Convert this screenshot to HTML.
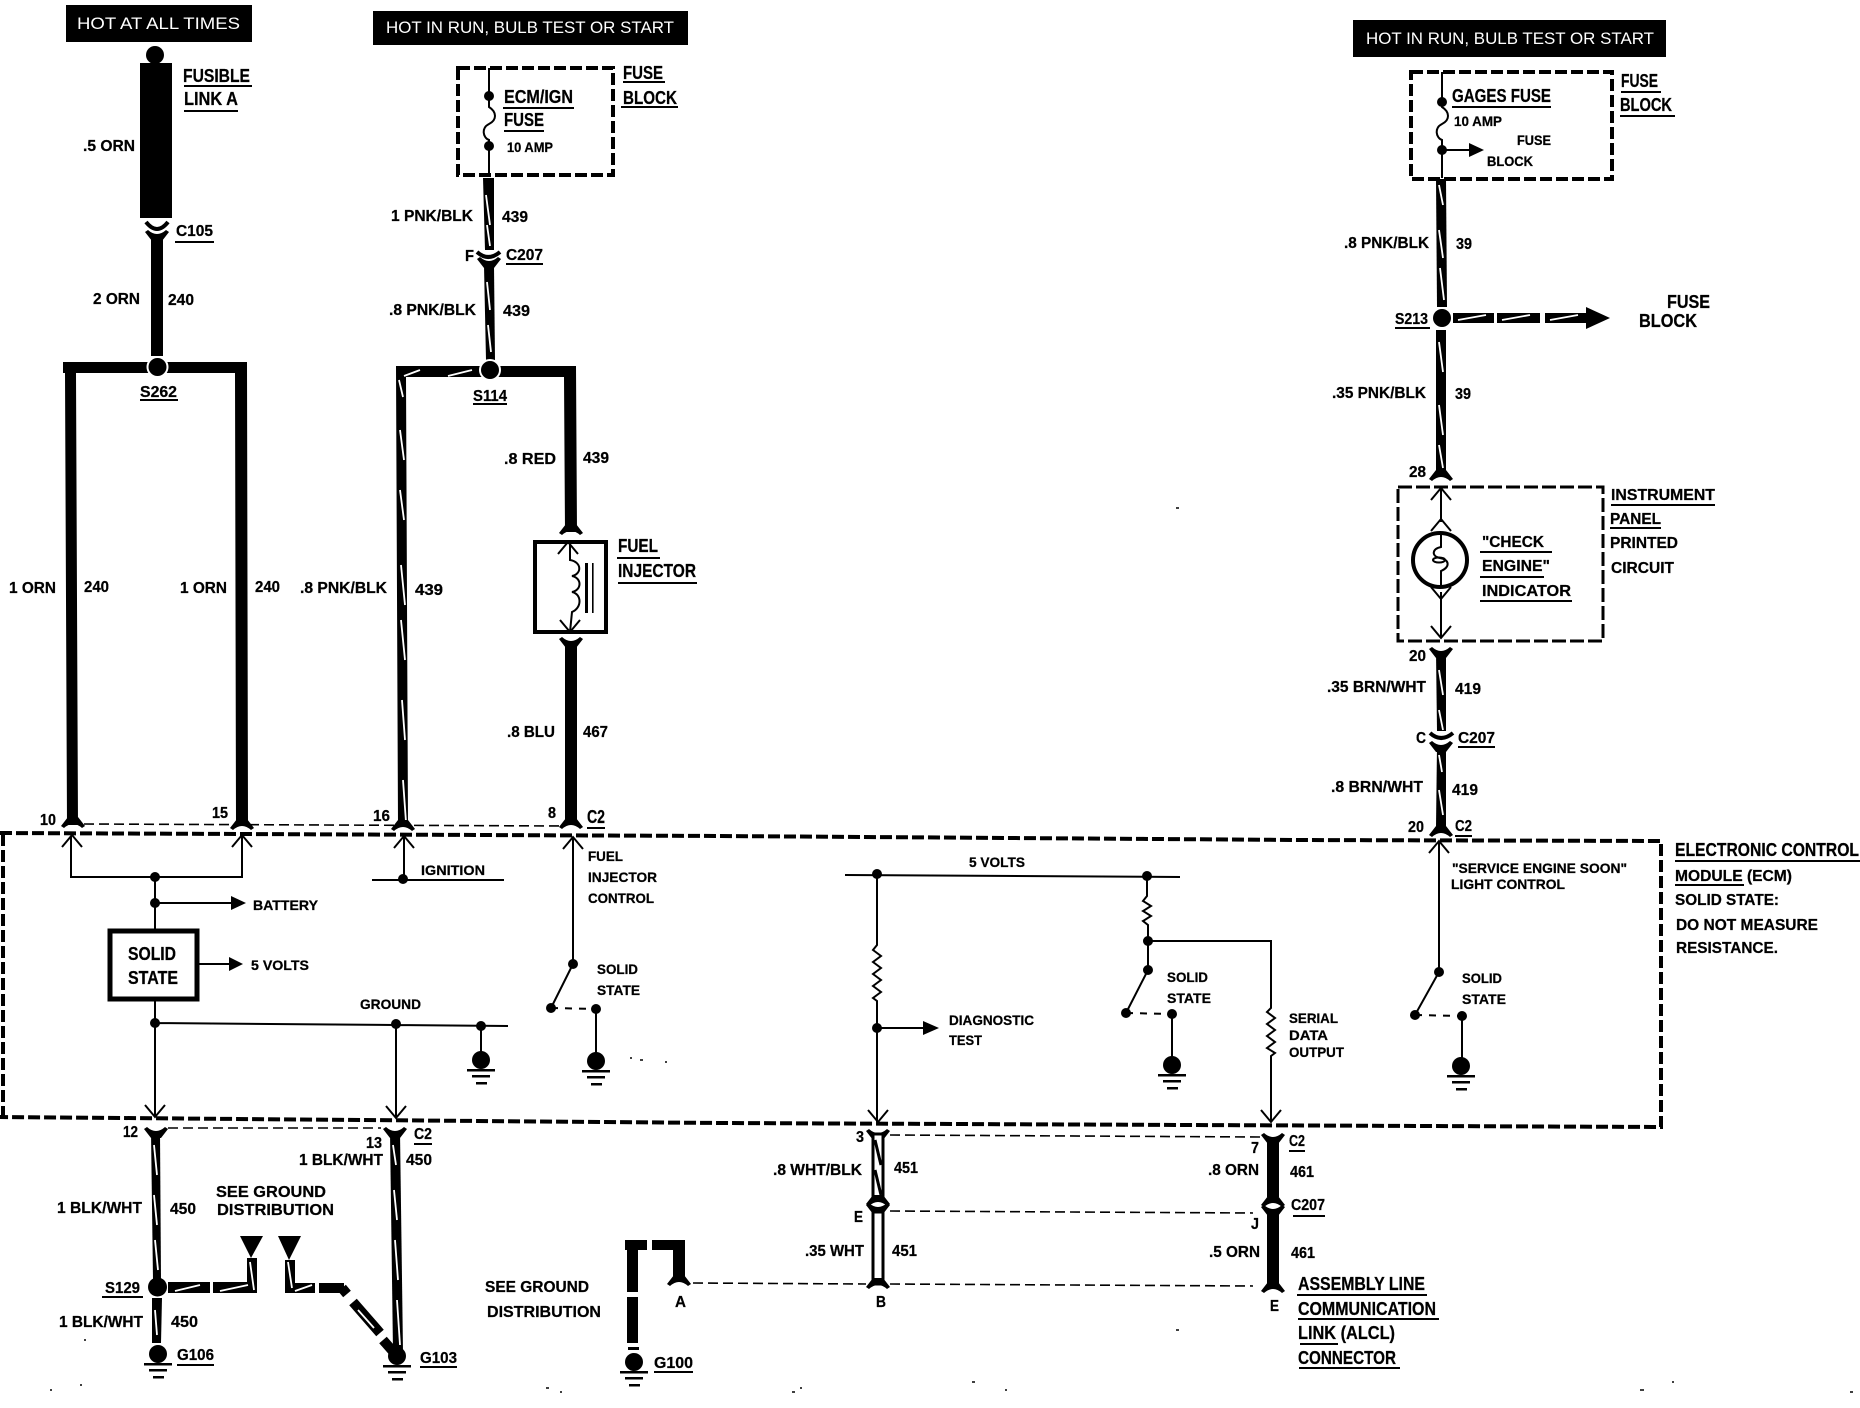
<!DOCTYPE html>
<html><head><meta charset="utf-8"><title>ECM wiring diagram</title>
<style>
html,body{margin:0;padding:0;background:#fff}
svg{display:block}
text{font-family:"Liberation Sans",sans-serif;font-weight:bold;fill:#000;stroke:#000;stroke-width:.25;font-size:16px}
.s{font-size:14px}
.m{font-size:18px}
.w{fill:#fff;stroke:none;font-weight:normal;font-size:17px}
.t{stroke:#000;fill:none;stroke-width:2}
.u{stroke:#000;fill:none;stroke-width:2}
.d{stroke:#000;fill:none;stroke-width:4;stroke-dasharray:12 4}
.h{stroke:#000;fill:none;stroke-width:1.6;stroke-dasharray:10 5}
.x{stroke:#fff;fill:none;stroke-width:1.8}
</style></head><body>
<svg width="1860" height="1408" viewBox="0 0 1860 1408" xmlns="http://www.w3.org/2000/svg">
<defs>
<path id="fd" d="M-12 1L-5 -8L5 -8L12 1L9 3Q0 -5 -9 3Z"/>
<path id="fu" d="M-12 -1L-5 8L5 8L12 -1L9 -3Q0 5 -9 -3Z"/>
<path id="au" class="t" d="M-10 12L0 0L10 12"/>
<path id="ad" class="t" d="M-10 -12L0 0L10 -12"/>
<g id="gnd"><ellipse cx="0" cy="8" rx="9" ry="9"/><rect x="-14" y="17" width="28" height="2.5"/><rect x="-9" y="23" width="18" height="2.5"/><rect x="-5" y="30" width="11" height="2.5"/></g>
</defs>

<!-- headers -->
<rect x="66" y="5" width="186" height="37"/>
<text class="w" x="77" y="29" textLength="163" lengthAdjust="spacingAndGlyphs">HOT AT ALL TIMES</text>
<rect x="373" y="11" width="315" height="34"/>
<text class="w" x="386" y="33" textLength="288" lengthAdjust="spacingAndGlyphs">HOT IN RUN, BULB TEST OR START</text>
<rect x="1353" y="20" width="313" height="37"/>
<text class="w" x="1366" y="44" textLength="288" lengthAdjust="spacingAndGlyphs">HOT IN RUN, BULB TEST OR START</text>

<!-- column 1 -->
<circle cx="155" cy="55" r="9"/>
<rect x="140" y="63" width="32" height="155"/>
<path d="M146 222Q157 236 168 222" stroke="#000" stroke-width="4" fill="none"/>
<use href="#fu" x="157" y="233"/>
<rect x="151" y="238" width="12" height="118"/>
<polygon points="63,362 247,362 248,825 236,825 235,373 76,373 78,825 67,825 65,373 63,373"/>
<circle cx="157.5" cy="367" r="10" stroke="#fff" stroke-width="2"/>
<use href="#fd" x="73" y="825"/><use href="#fd" x="242" y="827"/>

<!-- column 2 -->
<rect x="458" y="68" width="155" height="107" class="d"/>
<path class="t" d="M489 68V107C497 112 497 120 489 124C481 128 483 138 489 140V176"/>
<circle cx="489" cy="96" r="5"/><circle cx="489" cy="146" r="5"/>
<polygon points="483,178 494,178 494,250 485,250"/>
<path d="M477 252Q488 262 500 252" stroke="#000" stroke-width="4" fill="none"/>
<use href="#fu" x="489" y="260"/>
<polygon points="484,266 494,266 495,360 486,360"/>
<path class="x" d="M486 195L490 225M487 225L490 246M487 282L490 310M488 325L491 352"/>
<polygon points="396,366 576,366 577,532 565,532 564,377 406,377 408,825 398,825"/>
<circle cx="490" cy="370" r="10" stroke="#fff" stroke-width="2"/>
<path class="x" d="M404 376L420 370M448 376L472 370M399 380L403 397M400 430L404 460M400 490L404 520M401 565L405 605M401 620L405 660M402 700L405 740M403 780L406 822"/>
<use href="#fd" x="571" y="532"/><use href="#fd" x="403" y="828"/>
<rect x="535" y="542" width="71" height="90" fill="none" stroke="#000" stroke-width="4"/>
<path class="t" d="M570 542V560C582 562 582 574 572 576C582 578 582 590 572 592C582 594 582 608 572 612L570 632"/>
<use href="#au" x="568" y="542"/><use href="#ad" x="570" y="632"/>
<rect x="585" y="563" width="3" height="50"/><rect x="592" y="563" width="1.6" height="50"/>
<use href="#fu" x="571" y="640"/>
<rect x="565" y="645" width="12" height="177"/>
<use href="#fd" x="571" y="826"/>
<path class="h" d="M84 824L562 826"/>

<!-- column 3 -->
<rect x="1411" y="72" width="201" height="107" class="d"/>
<path class="t" d="M1442 72V107C1450 112 1450 120 1442 124C1434 128 1436 138 1442 140V178"/>
<circle cx="1442" cy="102" r="5"/><circle cx="1442" cy="150" r="5"/>
<path class="t" d="M1442 150H1470"/><polygon points="1469,143 1484,150 1469,157"/>
<polygon points="1436,179 1446,179 1447,307 1437,307"/>
<path class="x" d="M1439 185L1443 205M1439 230L1443 258M1440 268L1444 300"/>
<circle cx="1442" cy="318" r="9"/>
<rect x="1453" y="313" width="41" height="10"/><rect x="1497" y="313" width="43" height="10"/><rect x="1545" y="313" width="42" height="10"/>
<polygon points="1586,307 1610,318 1586,329"/>
<path class="x" d="M1458 320L1486 315M1502 320L1530 315M1550 320L1578 315"/>
<polygon points="1436,330 1446,330 1446,470 1436,470"/>
<path class="x" d="M1439 342L1443 372M1439 405L1443 435M1439 445L1443 468"/>
<use href="#fd" x="1441" y="478"/>
<rect x="1398" y="487" width="205" height="154" fill="none" stroke="#000" stroke-width="3" stroke-dasharray="14 4"/>
<path class="t" d="M1441 489V522"/><use href="#au" x="1441" y="488"/><use href="#au" x="1441" y="519"/>
<circle cx="1440" cy="560" r="27" fill="#fff" stroke="#000" stroke-width="4"/>
<path class="t" d="M1441 534V547C1432 549 1431 556 1440 558C1450 560 1450 567 1441 571V588"/>
<ellipse cx="1439" cy="560" rx="6" ry="2.5" fill="none" stroke="#000" stroke-width="2"/>
<path class="t" d="M1441 592V638"/><use href="#ad" x="1441" y="599"/><use href="#ad" x="1441" y="638"/>
<use href="#fu" x="1441" y="650"/>
<polygon points="1436,652 1446,652 1446,731 1437,731"/>
<path class="x" d="M1439 670L1443 695M1439 710L1443 730"/>
<path d="M1430 733Q1441 743 1453 733" stroke="#000" stroke-width="4" fill="none"/>
<use href="#fu" x="1441" y="744"/>
<polygon points="1437,746 1446,746 1446,827 1436,827"/>
<path class="x" d="M1439 755L1442 772M1439 790L1443 815"/>
<use href="#fd" x="1441" y="834"/>

<!-- ECM dashed box -->
<path class="d" d="M0 833L720 836L1300 840L1661 841V1127L720 1123L0 1117"/>
<path class="d" d="M3 834V1117"/>

<!-- ECM left internals -->
<path class="t" d="M71 836V877H242V836M155 877V930"/>
<use href="#au" x="72" y="835"/><use href="#au" x="242" y="835"/>
<circle cx="155" cy="877" r="5"/><circle cx="155" cy="903" r="5"/>
<path class="t" d="M155 903H232"/><polygon points="231,896 246,903 231,910"/>
<rect x="110" y="931" width="87" height="68" fill="none" stroke="#000" stroke-width="5"/>
<path class="t" d="M198 964H230"/><polygon points="229,957 243,964 229,971"/>
<path class="t" d="M155 1000V1117M155 1023L508 1026M396 1024V1117M481 1026V1052"/>
<use href="#ad" x="155" y="1117"/><use href="#ad" x="396" y="1118"/>
<circle cx="155" cy="1023" r="5"/><circle cx="396" cy="1024" r="5"/><circle cx="481" cy="1026" r="5"/>
<use href="#gnd" x="481" y="1052"/>
<path class="t" d="M404 836V880M372 880H504"/><use href="#au" x="404" y="836"/><circle cx="403" cy="879" r="5"/>
<path class="t" d="M573 837V964L551 1008"/><use href="#au" x="573" y="837"/>
<circle cx="573" cy="964" r="5"/><circle cx="551" cy="1008" r="5"/><circle cx="596" cy="1009" r="5"/>
<path class="t" stroke-dasharray="7 7" d="M551 1008L596 1009"/>
<path class="t" d="M596 1009V1053"/><use href="#gnd" x="596" y="1053"/>

<!-- ECM centre -->
<path class="t" d="M845 875L1180 877"/>
<path class="t" d="M877 875V945L873 950L881 956L873 962L881 968L873 974L881 980L873 986L881 992L873 998L877 1001V1122"/>
<circle cx="877" cy="874" r="5"/><circle cx="1147" cy="876" r="5"/><circle cx="877" cy="1028" r="5"/>
<path class="t" d="M877 1028H924"/><polygon points="923,1021 939,1028 923,1035"/>
<use href="#ad" x="878" y="1122"/>
<path class="t" d="M1147 876V896L1143 901L1151 906L1143 911L1151 916L1143 921L1148 925V970L1126 1013"/>
<circle cx="1148" cy="941" r="5"/><circle cx="1148" cy="970" r="5"/><circle cx="1126" cy="1013" r="5"/><circle cx="1172" cy="1014" r="5"/>
<path class="t" d="M1148 941H1271V1008L1267 1012L1275 1018L1267 1024L1275 1030L1267 1036L1275 1042L1267 1048L1275 1053L1271 1056V1122"/>
<use href="#ad" x="1271" y="1122"/>
<path class="t" stroke-dasharray="7 7" d="M1126 1013L1172 1014"/>
<path class="t" d="M1172 1014V1057"/><use href="#gnd" x="1172" y="1057"/>
<!-- ECM right -->
<path class="t" d="M1439 842V972L1415 1015"/><use href="#au" x="1439" y="841"/>
<circle cx="1439" cy="972" r="5"/><circle cx="1415" cy="1015" r="5"/><circle cx="1462" cy="1016" r="5"/>
<path class="t" stroke-dasharray="7 7" d="M1415 1015L1462 1016"/>
<path class="t" d="M1462 1016V1058"/><use href="#gnd" x="1461" y="1058"/>

<!-- bottom left -->
<use href="#fu" x="156" y="1130"/>
<polygon points="151,1132 160,1132 161,1280 153,1280"/>
<path class="x" d="M154 1145L157 1175M154 1195L157 1225M155 1240L158 1270"/>
<circle cx="157.5" cy="1287" r="9.5"/>
<polygon points="152,1298 162,1298 161,1343 152,1343"/>
<path class="x" d="M155 1310L157 1335"/>
<use href="#gnd" x="158" y="1346"/>
<path class="h" d="M168 1128H381"/>
<use href="#fu" x="395" y="1130"/>
<polygon points="390,1132 400,1132 403,1352 393,1352"/>
<path class="x" d="M393 1145L396 1165M394 1190L397 1220M395 1240L398 1280M397 1300L400 1345"/>
<use href="#gnd" x="397" y="1348"/>
<rect x="168" y="1282" width="42" height="11"/><rect x="213" y="1282" width="44" height="11"/><rect x="247" y="1258" width="10" height="35"/>
<polygon points="240,1236 263,1236 251,1258"/>
<polygon points="278,1236 301,1236 289,1260"/>
<rect x="285" y="1260" width="10" height="33"/><rect x="285" y="1283" width="30" height="10"/><rect x="319" y="1283" width="25" height="10"/>
<path class="x" d="M175 1291L200 1285M220 1291L248 1285M250 1262L254 1290M288 1262L292 1288M295 1291L312 1285"/>
<path stroke="#000" stroke-width="10" fill="none" d="M342 1288L347 1294M353 1302L380 1333M383 1340L397 1356"/>
<path class="x" d="M358 1310L374 1328"/>
<!-- G100 -->
<rect x="625" y="1240" width="22" height="10"/><rect x="627" y="1240" width="11" height="52"/><rect x="627" y="1297" width="11" height="46"/><rect x="628" y="1347" width="11" height="3"/>
<use href="#gnd" x="634" y="1354"/>
<rect x="652" y="1240" width="33" height="10"/><rect x="673" y="1240" width="12" height="42"/>
<use href="#fd" x="679" y="1283"/>
<path class="h" d="M693 1283L866 1284"/>

<!-- bottom centre -->
<use href="#fu" x="878" y="1132"/>
<rect x="873" y="1134" width="10" height="63" fill="#fff" stroke="#000" stroke-width="3"/>
<path d="M875 1140L881 1165M875 1170L881 1195" stroke="#000" stroke-width="3"/>
<use href="#fd" x="878" y="1203"/>
<use href="#fu" x="878" y="1206"/>
<rect x="873" y="1212" width="10" height="72" fill="#fff" stroke="#000" stroke-width="3"/>
<use href="#fd" x="878" y="1286"/>
<path class="h" d="M890 1135L1260 1137M890 1211L1253 1213M890 1284L1253 1286"/>
<use href="#fu" x="1273" y="1136"/>
<rect x="1267" y="1137" width="12" height="60"/>
<use href="#fd" x="1273" y="1204"/>
<use href="#fu" x="1273" y="1208"/>
<rect x="1267" y="1213" width="12" height="71"/>
<use href="#fd" x="1273" y="1290"/>

<!-- underlines -->
<path class="u" d="M184 86H252M184 111H238M175 242H214M140 400H178M623 82H665M621 107H678M503 108H574M504 131H544M506 264H543M473 404H507M617 558H660M618 583H697M587 828H605M1452 107H1551M1621 92H1661M1620 116H1675M1395 328H1430M1611 505H1715M1610 528H1661M1480 552H1552M1480 577H1544M1480 601H1572M1458 747H1495M1455 836H1472M1675 861H1860M1675 885H1744M102 1297H143M177 1365H214M420 1367H457M414 1144H432M654 1372H693M1289 1151H1305M1293 1216H1325M1297 1295H1427M1298 1319H1439M1300 1344H1338M1299 1368H1400"/>

<!-- print specks -->
<path stroke="#000" stroke-width="1.6" d="M546 1388h3M560 1392h2M792 1392h3M800 1388h2M972 1382h3M1005 1390h2M1640 1390h4M1672 1382h2M1850 1392h3M1176 508h3M1176 1330h3M640 1060h3M630 1058h2M665 1062h2M84 1340h2M50 1390h2M80 1385h2"/>

<!-- labels -->
<g>
<text class="m" x="183" y="82" textLength="67" lengthAdjust="spacingAndGlyphs">FUSIBLE</text>
<text class="m" x="184" y="105" textLength="54" lengthAdjust="spacingAndGlyphs">LINK A</text>
<text x="83" y="151" textLength="52" lengthAdjust="spacingAndGlyphs">.5 ORN</text>
<text x="176" y="236" textLength="37" lengthAdjust="spacingAndGlyphs">C105</text>
<text x="93" y="304" textLength="47" lengthAdjust="spacingAndGlyphs">2 ORN</text>
<text x="168" y="305" textLength="26" lengthAdjust="spacingAndGlyphs">240</text>
<text x="140" y="397" textLength="37" lengthAdjust="spacingAndGlyphs">S262</text>
<text class="m" x="623" y="79" textLength="40" lengthAdjust="spacingAndGlyphs">FUSE</text>
<text class="m" x="623" y="104" textLength="54" lengthAdjust="spacingAndGlyphs">BLOCK</text>
<text class="m" x="504" y="103" textLength="69" lengthAdjust="spacingAndGlyphs">ECM/IGN</text>
<text class="m" x="504" y="126" textLength="40" lengthAdjust="spacingAndGlyphs">FUSE</text>
<text class="s" x="507" y="152" textLength="46" lengthAdjust="spacingAndGlyphs">10 AMP</text>
<text x="391" y="221" textLength="82" lengthAdjust="spacingAndGlyphs">1 PNK/BLK</text>
<text x="502" y="222" textLength="26" lengthAdjust="spacingAndGlyphs">439</text>
<text x="465" y="261" textLength="9" lengthAdjust="spacingAndGlyphs">F</text>
<text x="506" y="260" textLength="37" lengthAdjust="spacingAndGlyphs">C207</text>
<text x="389" y="315" textLength="87" lengthAdjust="spacingAndGlyphs">.8 PNK/BLK</text>
<text x="503" y="316" textLength="27" lengthAdjust="spacingAndGlyphs">439</text>
<text x="473" y="401" textLength="34" lengthAdjust="spacingAndGlyphs">S114</text>
<text x="504" y="464" textLength="52" lengthAdjust="spacingAndGlyphs">.8 RED</text>
<text x="583" y="463" textLength="26" lengthAdjust="spacingAndGlyphs">439</text>
<text x="9" y="593" textLength="47" lengthAdjust="spacingAndGlyphs">1 ORN</text>
<text x="84" y="592" textLength="25" lengthAdjust="spacingAndGlyphs">240</text>
<text x="180" y="593" textLength="47" lengthAdjust="spacingAndGlyphs">1 ORN</text>
<text x="255" y="592" textLength="25" lengthAdjust="spacingAndGlyphs">240</text>
<text x="300" y="593" textLength="87" lengthAdjust="spacingAndGlyphs">.8 PNK/BLK</text>
<text x="415" y="595" textLength="28" lengthAdjust="spacingAndGlyphs">439</text>
<text class="m" x="618" y="552" textLength="40" lengthAdjust="spacingAndGlyphs">FUEL</text>
<text class="m" x="618" y="577" textLength="78" lengthAdjust="spacingAndGlyphs">INJECTOR</text>
<text x="507" y="737" textLength="48" lengthAdjust="spacingAndGlyphs">.8 BLU</text>
<text x="583" y="737" textLength="25" lengthAdjust="spacingAndGlyphs">467</text>
<text x="40" y="825" textLength="16" lengthAdjust="spacingAndGlyphs">10</text>
<text x="212" y="818" textLength="16" lengthAdjust="spacingAndGlyphs">15</text>
<text x="373" y="821" textLength="17" lengthAdjust="spacingAndGlyphs">16</text>
<text x="548" y="818" textLength="8" lengthAdjust="spacingAndGlyphs">8</text>
<text class="m" x="587" y="823" textLength="18" lengthAdjust="spacingAndGlyphs">C2</text>
<text class="s" x="253" y="910" textLength="65" lengthAdjust="spacingAndGlyphs">BATTERY</text>
<text class="m" x="128" y="960" textLength="48" lengthAdjust="spacingAndGlyphs">SOLID</text>
<text class="m" x="128" y="984" textLength="50" lengthAdjust="spacingAndGlyphs">STATE</text>
<text class="s" x="251" y="970" textLength="58" lengthAdjust="spacingAndGlyphs">5 VOLTS</text>
<text class="s" x="360" y="1009" textLength="61" lengthAdjust="spacingAndGlyphs">GROUND</text>
<text class="s" x="421" y="875" textLength="64" lengthAdjust="spacingAndGlyphs">IGNITION</text>
<text class="s" x="588" y="861" textLength="35" lengthAdjust="spacingAndGlyphs">FUEL</text>
<text class="s" x="588" y="882" textLength="69" lengthAdjust="spacingAndGlyphs">INJECTOR</text>
<text class="s" x="588" y="903" textLength="66" lengthAdjust="spacingAndGlyphs">CONTROL</text>
<text class="s" x="597" y="974" textLength="41" lengthAdjust="spacingAndGlyphs">SOLID</text>
<text class="s" x="597" y="995" textLength="43" lengthAdjust="spacingAndGlyphs">STATE</text>
<text class="s" x="969" y="867" textLength="56" lengthAdjust="spacingAndGlyphs">5 VOLTS</text>
<text class="s" x="949" y="1025" textLength="85" lengthAdjust="spacingAndGlyphs">DIAGNOSTIC</text>
<text class="s" x="949" y="1045" textLength="33" lengthAdjust="spacingAndGlyphs">TEST</text>
<text class="s" x="1167" y="982" textLength="41" lengthAdjust="spacingAndGlyphs">SOLID</text>
<text class="s" x="1167" y="1003" textLength="44" lengthAdjust="spacingAndGlyphs">STATE</text>
<text class="s" x="1289" y="1023" textLength="49" lengthAdjust="spacingAndGlyphs">SERIAL</text>
<text class="s" x="1289" y="1040" textLength="39" lengthAdjust="spacingAndGlyphs">DATA</text>
<text class="s" x="1289" y="1057" textLength="55" lengthAdjust="spacingAndGlyphs">OUTPUT</text>
<text x="123" y="1137" textLength="15" lengthAdjust="spacingAndGlyphs">12</text>
<text x="366" y="1148" textLength="16" lengthAdjust="spacingAndGlyphs">13</text>
<text x="414" y="1139" textLength="18" lengthAdjust="spacingAndGlyphs">C2</text>
<text x="299" y="1165" textLength="84" lengthAdjust="spacingAndGlyphs">1 BLK/WHT</text>
<text x="406" y="1165" textLength="26" lengthAdjust="spacingAndGlyphs">450</text>
<text x="216" y="1197" textLength="110" lengthAdjust="spacingAndGlyphs">SEE GROUND</text>
<text x="217" y="1215" textLength="117" lengthAdjust="spacingAndGlyphs">DISTRIBUTION</text>
<text x="57" y="1213" textLength="85" lengthAdjust="spacingAndGlyphs">1 BLK/WHT</text>
<text x="170" y="1214" textLength="26" lengthAdjust="spacingAndGlyphs">450</text>
<text x="105" y="1293" textLength="35" lengthAdjust="spacingAndGlyphs">S129</text>
<text x="59" y="1327" textLength="84" lengthAdjust="spacingAndGlyphs">1 BLK/WHT</text>
<text x="171" y="1327" textLength="27" lengthAdjust="spacingAndGlyphs">450</text>
<text x="177" y="1360" textLength="37" lengthAdjust="spacingAndGlyphs">G106</text>
<text x="420" y="1363" textLength="37" lengthAdjust="spacingAndGlyphs">G103</text>
<text x="485" y="1292" textLength="104" lengthAdjust="spacingAndGlyphs">SEE GROUND</text>
<text x="487" y="1317" textLength="114" lengthAdjust="spacingAndGlyphs">DISTRIBUTION</text>
<text x="654" y="1368" textLength="39" lengthAdjust="spacingAndGlyphs">G100</text>
<text x="675" y="1307" textLength="11" lengthAdjust="spacingAndGlyphs">A</text>
<text x="856" y="1142" textLength="8" lengthAdjust="spacingAndGlyphs">3</text>
<text x="773" y="1175" textLength="89" lengthAdjust="spacingAndGlyphs">.8 WHT/BLK</text>
<text x="894" y="1173" textLength="24" lengthAdjust="spacingAndGlyphs">451</text>
<text x="854" y="1222" textLength="9" lengthAdjust="spacingAndGlyphs">E</text>
<text x="805" y="1256" textLength="59" lengthAdjust="spacingAndGlyphs">.35 WHT</text>
<text x="892" y="1256" textLength="25" lengthAdjust="spacingAndGlyphs">451</text>
<text x="876" y="1307" textLength="10" lengthAdjust="spacingAndGlyphs">B</text>
<text x="1251" y="1153" textLength="8" lengthAdjust="spacingAndGlyphs">7</text>
<text x="1289" y="1146" textLength="16" lengthAdjust="spacingAndGlyphs">C2</text>
<text x="1208" y="1175" textLength="51" lengthAdjust="spacingAndGlyphs">.8 ORN</text>
<text x="1290" y="1177" textLength="24" lengthAdjust="spacingAndGlyphs">461</text>
<text x="1291" y="1210" textLength="34" lengthAdjust="spacingAndGlyphs">C207</text>
<text x="1251" y="1229" textLength="8" lengthAdjust="spacingAndGlyphs">J</text>
<text x="1209" y="1257" textLength="51" lengthAdjust="spacingAndGlyphs">.5 ORN</text>
<text x="1291" y="1258" textLength="24" lengthAdjust="spacingAndGlyphs">461</text>
<text x="1270" y="1311" textLength="9" lengthAdjust="spacingAndGlyphs">E</text>
<text class="m" x="1298" y="1290" textLength="127" lengthAdjust="spacingAndGlyphs">ASSEMBLY LINE</text>
<text class="m" x="1298" y="1315" textLength="138" lengthAdjust="spacingAndGlyphs">COMMUNICATION</text>
<text class="m" x="1298" y="1339" textLength="97" lengthAdjust="spacingAndGlyphs">LINK (ALCL)</text>
<text class="m" x="1298" y="1364" textLength="98" lengthAdjust="spacingAndGlyphs">CONNECTOR</text>
<text class="m" x="1452" y="102" textLength="99" lengthAdjust="spacingAndGlyphs">GAGES FUSE</text>
<text class="s" x="1454" y="126" textLength="48" lengthAdjust="spacingAndGlyphs">10 AMP</text>
<text class="s" x="1517" y="145" textLength="34" lengthAdjust="spacingAndGlyphs">FUSE</text>
<text class="s" x="1487" y="166" textLength="46" lengthAdjust="spacingAndGlyphs">BLOCK</text>
<text class="m" x="1621" y="87" textLength="37" lengthAdjust="spacingAndGlyphs">FUSE</text>
<text class="m" x="1620" y="111" textLength="52" lengthAdjust="spacingAndGlyphs">BLOCK</text>
<text x="1344" y="248" textLength="85" lengthAdjust="spacingAndGlyphs">.8 PNK/BLK</text>
<text x="1456" y="249" textLength="16" lengthAdjust="spacingAndGlyphs">39</text>
<text x="1395" y="324" textLength="33" lengthAdjust="spacingAndGlyphs">S213</text>
<text class="m" x="1667" y="308" textLength="43" lengthAdjust="spacingAndGlyphs">FUSE</text>
<text class="m" x="1639" y="327" textLength="58" lengthAdjust="spacingAndGlyphs">BLOCK</text>
<text x="1332" y="398" textLength="94" lengthAdjust="spacingAndGlyphs">.35 PNK/BLK</text>
<text x="1455" y="399" textLength="16" lengthAdjust="spacingAndGlyphs">39</text>
<text x="1409" y="477" textLength="17" lengthAdjust="spacingAndGlyphs">28</text>
<text x="1611" y="500" textLength="104" lengthAdjust="spacingAndGlyphs">INSTRUMENT</text>
<text x="1610" y="524" textLength="51" lengthAdjust="spacingAndGlyphs">PANEL</text>
<text x="1610" y="548" textLength="68" lengthAdjust="spacingAndGlyphs">PRINTED</text>
<text x="1611" y="573" textLength="63" lengthAdjust="spacingAndGlyphs">CIRCUIT</text>
<text x="1482" y="547" textLength="62" lengthAdjust="spacingAndGlyphs">"CHECK</text>
<text x="1482" y="571" textLength="68" lengthAdjust="spacingAndGlyphs">ENGINE"</text>
<text x="1482" y="596" textLength="89" lengthAdjust="spacingAndGlyphs">INDICATOR</text>
<text x="1409" y="661" textLength="17" lengthAdjust="spacingAndGlyphs">20</text>
<text x="1327" y="692" textLength="99" lengthAdjust="spacingAndGlyphs">.35 BRN/WHT</text>
<text x="1455" y="694" textLength="26" lengthAdjust="spacingAndGlyphs">419</text>
<text x="1416" y="743" textLength="10" lengthAdjust="spacingAndGlyphs">C</text>
<text x="1458" y="743" textLength="37" lengthAdjust="spacingAndGlyphs">C207</text>
<text x="1331" y="792" textLength="92" lengthAdjust="spacingAndGlyphs">.8 BRN/WHT</text>
<text x="1452" y="795" textLength="26" lengthAdjust="spacingAndGlyphs">419</text>
<text x="1408" y="832" textLength="16" lengthAdjust="spacingAndGlyphs">20</text>
<text x="1455" y="831" textLength="17" lengthAdjust="spacingAndGlyphs">C2</text>
<text class="m" x="1675" y="856" textLength="184" lengthAdjust="spacingAndGlyphs">ELECTRONIC CONTROL</text>
<text x="1675" y="881" textLength="117" lengthAdjust="spacingAndGlyphs">MODULE (ECM)</text>
<text x="1675" y="905" textLength="104" lengthAdjust="spacingAndGlyphs">SOLID STATE:</text>
<text x="1676" y="930" textLength="142" lengthAdjust="spacingAndGlyphs">DO NOT MEASURE</text>
<text x="1676" y="953" textLength="102" lengthAdjust="spacingAndGlyphs">RESISTANCE.</text>
<text class="s" x="1452" y="873" textLength="175" lengthAdjust="spacingAndGlyphs">"SERVICE ENGINE SOON"</text>
<text class="s" x="1451" y="889" textLength="114" lengthAdjust="spacingAndGlyphs">LIGHT CONTROL</text>
<text class="s" x="1462" y="983" textLength="40" lengthAdjust="spacingAndGlyphs">SOLID</text>
<text class="s" x="1462" y="1004" textLength="44" lengthAdjust="spacingAndGlyphs">STATE</text>
</g>
</svg>
</body></html>
